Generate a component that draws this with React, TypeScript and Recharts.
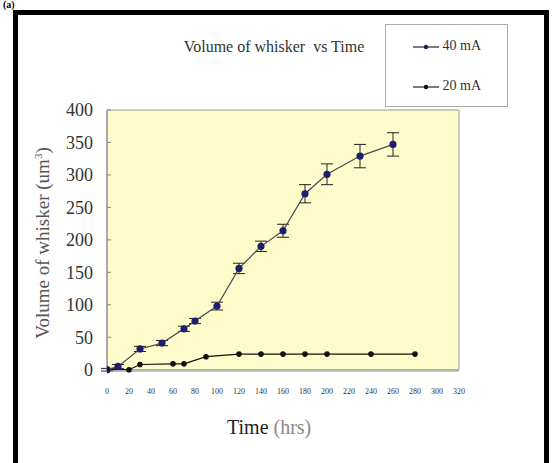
import { ErrorBar, Line, LineChart, ReferenceArea, XAxis, YAxis } from "recharts";

// 40 mA series
const times40 = [0, 10, 30, 50, 70, 80, 100, 120, 140, 160, 180, 200, 230, 260];
const volume40 = [0, 5, 32, 41, 63, 75, 98, 156, 190, 214, 271, 301, 329, 347];
const error40 = [2, 3, 4, 4, 4, 4, 6, 8, 8, 10, 14, 16, 18, 18];

// 20 mA series
const times20 = [0, 20, 30, 60, 70, 90, 120, 140, 160, 180, 200, 240, 280];
const volume20 = [0, 0, 8, 9, 9, 20, 24, 24, 24, 24, 24, 24, 24];

const xTicks = [0, 20, 40, 60, 80, 100, 120, 140, 160, 180, 200, 220, 240, 260, 280, 300, 320];
const yTicks = [0, 50, 100, 150, 200, 250, 300, 350, 400];

const data40 = times40.map((t, i) => ({ t, v: volume40[i], err: error40[i] }));
const data20 = times20.map((t, i) => ({ t, v: volume20[i] }));

const serif = "'Liberation Serif', 'DejaVu Serif', serif";
const navy = "#1e1e6e";

const Marker = ({ color }: { color: string }) => (
  <svg width={26} height={8} style={{ verticalAlign: "middle" }}>
    <line x1={0} y1={4} x2={26} y2={4} stroke="#222" strokeWidth={1.2} />
    <circle cx={13} cy={4} r={2.2} fill={color} />
  </svg>
);

export default function App() {
  return (
    <div
      style={{
        position: "absolute",
        left: 0,
        top: 0,
        width: 552,
        height: 463,
        overflow: "hidden",
        background: "#fff",
        fontFamily: serif,
      }}
    >
      <div style={{ position: "absolute", left: 3, top: 0, fontSize: 10, lineHeight: "10px", fontWeight: "bold" }}>
        (a)
      </div>
      <div
        style={{
          position: "absolute",
          left: 13,
          top: 10,
          width: 536,
          height: 480,
          border: "5px solid #000",
          boxSizing: "border-box",
        }}
      />
      <LineChart
        width={552}
        height={463}
        style={{ position: "absolute", left: 0, top: 0 }}
        margin={{ top: 110, right: 93, bottom: 62, left: 47 }}
      >
        <ReferenceArea x1={0} x2={320} y1={0} y2={400} fill="#FFFCCB" fillOpacity={1} stroke="#999" strokeWidth={1} />
        <XAxis
          type="number"
          dataKey="t"
          domain={[0, 320]}
          ticks={xTicks}
          interval={0}
          height={30}
          axisLine={{ stroke: "#888" }}
          tickLine={false}
          tickMargin={11}
          tick={{ fontSize: 8, fill: "#333", fontFamily: serif }}
          allowDataOverflow
        />
        <YAxis
          type="number"
          domain={[0, 400]}
          ticks={yTicks}
          interval={0}
          width={60}
          axisLine={{ stroke: "#888" }}
          tickLine={{ stroke: "#888" }}
          tickSize={-4}
          tickMargin={18}
          tick={{ fontSize: 18, fill: "#333", fontFamily: serif }}
        />
        <Line
          data={data40}
          dataKey="v"
          stroke="#4a4a55"
          strokeWidth={1.2}
          dot={{ r: 3, fill: navy, stroke: navy }}
          isAnimationActive={false}
        >
          <ErrorBar dataKey="err" width={6} stroke="#222" strokeWidth={1} direction="y" />
        </Line>
        <Line
          data={data20}
          dataKey="v"
          stroke="#111"
          strokeWidth={1.2}
          dot={{ r: 2.2, fill: "#111", stroke: "#111" }}
          isAnimationActive={false}
        />
      </LineChart>
      <div
        style={{
          position: "absolute",
          left: 183,
          top: 38,
          width: 182,
          textAlign: "center",
          fontSize: 16,
          color: "#333",
          whiteSpace: "nowrap",
        }}
      >
        Volume of whisker&nbsp; vs Time
      </div>
      <div
        style={{
          position: "absolute",
          left: 385,
          top: 24,
          width: 123,
          height: 83,
          border: "1px solid #aaa",
          boxSizing: "border-box",
          background: "#fff",
          fontSize: 14,
          color: "#333",
        }}
      >
        <div style={{ position: "absolute", left: 27, top: 13, whiteSpace: "nowrap" }}>
          <Marker color={navy} /> 40 mA
        </div>
        <div style={{ position: "absolute", left: 27, top: 53, whiteSpace: "nowrap" }}>
          <Marker color="#111" /> 20 mA
        </div>
      </div>
      <div
        style={{
          position: "absolute",
          left: 43,
          top: 243,
          transform: "translate(-50%, -50%) rotate(-90deg)",
          fontSize: 19,
          color: "#555",
          whiteSpace: "nowrap",
        }}
      >
        Volume of whisker (um<sup style={{ fontSize: 11 }}>3</sup>)
      </div>
      <div
        style={{
          position: "absolute",
          left: 227,
          top: 416,
          fontSize: 20,
          color: "#222",
          whiteSpace: "nowrap",
        }}
      >
        Time <span style={{ color: "#888" }}>(hrs)</span>
      </div>
    </div>
  );
}
